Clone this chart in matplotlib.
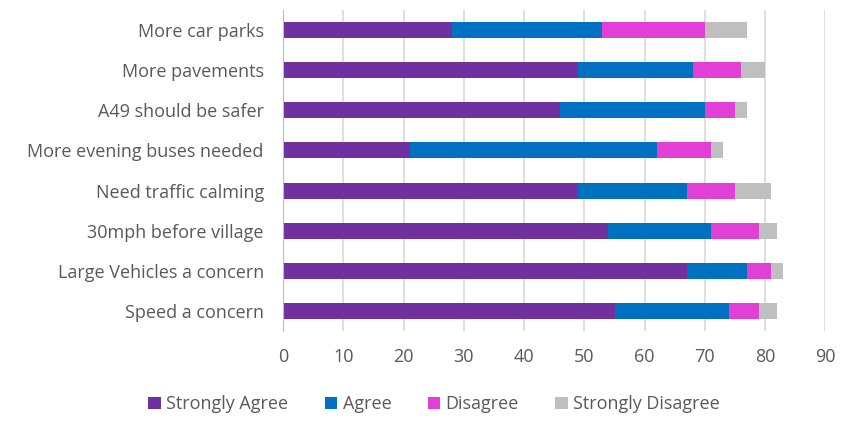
import numpy as np
import matplotlib.pyplot as plt

categories = ["More car parks", "More pavements", "A49 should be safer",
              "More evening buses needed", "Need traffic calming",
              "30mph before village", "Large Vehicles a concern",
              "Speed a concern"]
strongly_agree = [28, 49, 46, 21, 49, 54, 67, 55]
agree = [25, 19, 24, 41, 18, 17, 10, 19]
disagree = [17, 8, 5, 9, 8, 8, 4, 5]
strongly_disagree = [7, 4, 2, 2, 6, 3, 2, 3]

series = [("Strongly Agree", strongly_agree, "#7030A0"),
          ("Agree", agree, "#0070C0"),
          ("Disagree", disagree, "#E23FD6"),
          ("Strongly Disagree", strongly_disagree, "#BFBFBF")]

plt.rcParams['font.family'] = ['Open Sans', 'DejaVu Sans']
txt = "#595959"
fs = 13

fig = plt.figure(figsize=(8.43, 4.21), dpi=100)
ax = fig.add_axes([0.336, 0.214, 0.643, 0.762])

y = np.arange(len(categories))
left = np.zeros(len(categories))
for name, vals, col in series:
    ax.barh(y, vals, left=left, height=0.4, color=col, label=name, zorder=3)
    left += np.array(vals)

ax.set_yticks(y)
ax.set_yticklabels(categories, fontsize=fs, color=txt)
ax.set_ylim(len(categories) - 0.5, -0.5)
ax.set_xlim(0, 90)
ax.set_xticks(np.arange(0, 91, 10))
ax.tick_params(axis='x', labelsize=fs, colors=txt, length=0, pad=12)
ax.tick_params(axis='y', length=0, pad=14)
ax.grid(axis='x', color='#D9D9D9', linewidth=1.2, zorder=0)
for s in ['top', 'right', 'bottom']:
    ax.spines[s].set_visible(False)
ax.spines['left'].set_color('#BFBFBF')
ax.spines['left'].set_zorder(4)

fig.legend(loc='lower center', bbox_to_anchor=(0.515, -0.02), ncol=4,
           frameon=False, fontsize=fs, handlelength=0.7, handleheight=0.7,
           handletextpad=0.3, columnspacing=2.0, labelcolor=txt)

fig.savefig("out.png", dpi=100)
